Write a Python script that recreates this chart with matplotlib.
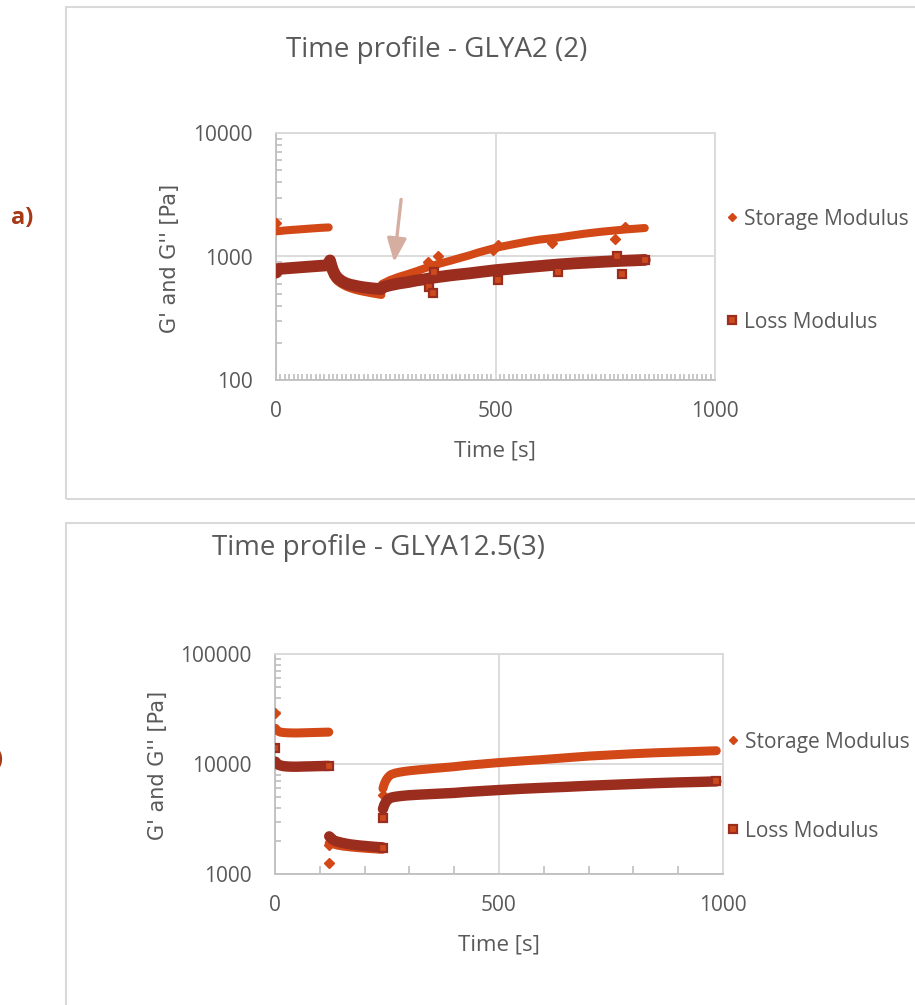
import matplotlib
matplotlib.use("Agg")
import matplotlib.pyplot as plt
from matplotlib.ticker import LogLocator, MultipleLocator, FixedLocator, NullFormatter, FuncFormatter
from matplotlib.patches import Rectangle
from matplotlib.lines import Line2D

# ---------------- GLYA2 (2) ----------------
a_sto_hold_t = [2, 10, 20, 30, 40, 50, 60, 70, 80, 90, 100, 110, 120]
a_sto_hold_g = [1600, 1610, 1625, 1635, 1645, 1655, 1665, 1675, 1685, 1695, 1705, 1712, 1720]
a_sto_break_t = [122, 126, 130, 135, 140, 150, 160, 170, 180, 190, 200, 210, 220, 230, 240]
a_sto_break_g = [870, 760, 700, 660, 630, 595, 570, 552, 538, 527, 518, 510, 502, 495, 488]
a_sto_rec_t = [242, 260, 280, 300, 320, 340, 360, 380, 400, 420, 440, 460, 480, 500, 520, 540,
               560, 580, 600, 620, 640, 660, 680, 700, 720, 740, 760, 780, 800, 820, 840]
a_sto_rec_g = [600, 645, 685, 720, 760, 805, 850, 890, 930, 975, 1020, 1075, 1125, 1175, 1215, 1255,
               1295, 1335, 1370, 1395, 1420, 1455, 1490, 1525, 1555, 1585, 1610, 1635, 1660, 1680, 1700]
a_sto_odd_t = [0, 346, 368, 495, 505, 628, 772, 795]
a_sto_odd_g = [1860, 900, 1000, 1130, 1230, 1280, 1380, 1720]

a_los_hold_t = [0, 2, 10, 20, 30, 40, 50, 60, 70, 80, 90, 100, 110, 120]
a_los_hold_g = [740, 790, 795, 800, 805, 810, 815, 820, 825, 830, 835, 840, 845, 850]
a_los_break_t = [120, 121, 123, 126, 130, 135, 140, 150, 160, 170, 180, 190, 200, 210, 220, 230, 240]
a_los_break_g = [850, 900, 930, 850, 770, 710, 670, 630, 605, 590, 580, 570, 563, 557, 552, 548, 545]
a_los_rec_t = [240, 260, 280, 300, 320, 340, 360, 380, 400, 420, 440, 460, 480, 500, 520, 540,
               560, 580, 600, 620, 640, 660, 680, 700, 720, 740, 760, 780, 800, 820, 840]
a_los_rec_g = [560, 585, 605, 620, 640, 655, 675, 690, 705, 718, 730, 745, 760, 775, 787, 800,
               812, 824, 836, 848, 860, 870, 880, 888, 896, 904, 912, 920, 926, 932, 938]
a_los_odd_t = [348, 357, 360, 506, 643, 777, 788, 841]
a_los_odd_g = [563, 509, 753, 646, 753, 1000, 722, 930]

# ---------------- GLYA12.5(3) ----------------
b_sto_hold_t = [1, 4, 8, 12, 20, 30, 40, 50, 60, 70, 80, 90, 100, 110, 120]
b_sto_hold_g = [21100, 20300, 19800, 19500, 19300, 19200, 19150, 19150, 19200, 19250, 19300,
                19350, 19400, 19450, 19500]
b_sto_break_t = [121, 124, 128, 134, 140, 150, 160, 170, 180, 190, 200, 210, 220, 230, 240]
b_sto_break_g = [1900, 1960, 1900, 1860, 1830, 1800, 1780, 1760, 1745, 1730, 1718, 1706, 1695, 1686, 1678]
b_sto_rec_t = [241, 244, 248, 252, 256, 260, 270, 280, 290, 300, 320, 340, 360, 380, 400, 425,
               450, 475, 500, 550, 600, 650, 700, 750, 800, 850, 900, 950, 985]
b_sto_rec_g = [6000, 6600, 7150, 7550, 7850, 8050, 8300, 8450, 8580, 8680, 8850, 9000, 9150, 9300,
               9450, 9700, 9900, 10100, 10300, 10650, 11000, 11400, 11800, 12100, 12400, 12650,
               12850, 13050, 13200]
b_sto_odd_t = [0, 120, 121, 240]
b_sto_odd_g = [29200, 1250, 1840, 5220]

b_los_hold_t = [1, 4, 8, 12, 20, 30, 40, 50, 60, 70, 80, 90, 100, 110, 120]
b_los_hold_g = [10500, 10100, 9850, 9700, 9550, 9480, 9450, 9450, 9480, 9500, 9520, 9550, 9570,
                9590, 9600]
b_los_break_t = [121, 124, 128, 134, 140, 150, 160, 170, 180, 190, 200, 210, 220, 230, 240]
b_los_break_g = [2200, 2150, 2060, 2000, 1965, 1920, 1885, 1855, 1835, 1815, 1800, 1785, 1770, 1758, 1748]
b_los_rec_t = [241, 244, 248, 252, 256, 260, 270, 280, 290, 300, 320, 340, 360, 380, 400, 425,
               450, 475, 500, 550, 600, 650, 700, 750, 800, 850, 900, 950, 985]
b_los_rec_g = [3900, 4250, 4550, 4750, 4880, 4960, 5050, 5110, 5160, 5200, 5260, 5310, 5360, 5410,
               5460, 5560, 5640, 5720, 5800, 5950, 6080, 6200, 6340, 6460, 6580, 6700, 6800, 6880, 6950]
b_los_odd_t = [0, 120, 240, 240, 985]
b_los_odd_g = [13900, 9600, 1740, 3250, 6950]

x_ticks = [0, 500, 1000]
series_names = ["Storage Modulus", "Loss Modulus"]
titles = ["Time profile - GLYA2 (2)", "Time profile - GLYA12.5(3)"]
panel_tags = ["a)", "b)"]
x_label = "Time [s]"
y_label = "G' and G'' [Pa]"

ORANGE = "#D34817"
DARKRED = "#9B2D1F"
SQFACE = "#CC4A1E"
TXT = "#595959"
GRID = "#D9D9D9"
AXIS = "#BFBFBF"

plt.rcParams["font.family"] = ["Open Sans", "DejaVu Sans"]

W, H = 915, 1005
fig = plt.figure(figsize=(W / 100, H / 100), dpi=100)


def px_box(left, top, right, bottom):
    return [left / W, 1 - bottom / H, (right - left) / W, (bottom - top) / H]


def fx(x):
    return x / W


def fy(y):
    return 1 - y / H


def draw_panel(ax, sto, los, sto_odd, los_odd, ylim, yticks, x_minor, minor_len,
               sto_lw, los_lw):
    for t, g in sto:
        ax.plot(t, g, color=ORANGE, lw=sto_lw, solid_capstyle="round",
                solid_joinstyle="round", zorder=3)
    ax.plot(sto_odd[0], sto_odd[1], linestyle="none", marker="D", ms=5,
            color=ORANGE, mec=ORANGE, zorder=3)
    for t, g in los:
        ax.plot(t, g, color=DARKRED, lw=los_lw, solid_capstyle="round",
                solid_joinstyle="round", zorder=4)
    ax.plot(los_odd[0], los_odd[1], linestyle="none", marker="s", ms=6,
            mfc=SQFACE, mec=DARKRED, mew=1.6, zorder=5)

    ax.set_yscale("log")
    ax.set_ylim(*ylim)
    ax.set_xlim(0, 1000)
    ax.set_xticks(x_ticks)
    ax.xaxis.set_minor_locator(MultipleLocator(x_minor))
    ax.yaxis.set_major_locator(FixedLocator(yticks))
    ax.yaxis.set_major_formatter(FuncFormatter(lambda v, p: f"{v:.0f}"))
    ax.yaxis.set_minor_locator(LogLocator(base=10, subs=range(2, 10)))
    ax.yaxis.set_minor_formatter(NullFormatter())
    ax.tick_params(which="both", direction="in", color=AXIS, labelcolor=TXT,
                   labelsize=15, width=1.2)
    ax.tick_params(axis="y", which="major", length=0, pad=17)
    ax.tick_params(axis="y", which="minor", length=4)
    ax.tick_params(axis="x", which="major", length=0, pad=15)
    ax.tick_params(axis="x", which="minor", length=minor_len)
    ax.grid(True, which="major", color=GRID, lw=1.3, zorder=0)
    ax.set_axisbelow(True)
    for side in ("top", "right"):
        ax.spines[side].set_color(GRID)
        ax.spines[side].set_linewidth(1.3)
    for side in ("left", "bottom"):
        ax.spines[side].set_color(AXIS)
        ax.spines[side].set_linewidth(1.3)


def legend_at(x_marker, y_sto, y_los):
    fig.add_artist(Line2D([fx(x_marker)], [fy(y_sto)], marker="D", ms=4,
                          color=ORANGE, linestyle="none", transform=fig.transFigure))
    fig.add_artist(Line2D([fx(x_marker)], [fy(y_los)], marker="s", ms=6,
                          mfc=SQFACE, mec=DARKRED, mew=1.6, linestyle="none",
                          transform=fig.transFigure))
    fig.text(fx(x_marker + 12), fy(y_sto), series_names[0], fontsize=15, color=TXT,
             ha="left", va="center_baseline")
    fig.text(fx(x_marker + 12), fy(y_los), series_names[1], fontsize=15, color=TXT,
             ha="left", va="center_baseline")


# chart frames
fig.add_artist(Rectangle((fx(66), fy(499)), fx(W + 20 - 66), (499 - 7) / H,
                         transform=fig.transFigure, fill=False, ec=GRID, lw=1.5))
fig.add_artist(Rectangle((fx(66), fy(H + 20)), fx(W + 20 - 66), (H + 20 - 523) / H,
                         transform=fig.transFigure, fill=False, ec=GRID, lw=1.5))

# ---- panel a ----
ax1 = fig.add_axes(px_box(276, 133, 715, 380))
draw_panel(ax1,
           [(a_sto_hold_t, a_sto_hold_g), (a_sto_break_t, a_sto_break_g), (a_sto_rec_t, a_sto_rec_g)],
           [(a_los_hold_t, a_los_hold_g), (a_los_break_t, a_los_break_g), (a_los_rec_t, a_los_rec_g)],
           (a_sto_odd_t, a_sto_odd_g), (a_los_odd_t, a_los_odd_g),
           (100, 10000), [100, 1000, 10000], 10, 4, 5.8, 8.5)
ax1.annotate("", xy=(269, 900), xytext=(285, 2900),
             arrowprops=dict(arrowstyle="-|>,head_length=1.1,head_width=0.45",
                             color="#D6AEA1", lw=2.4, mutation_scale=13,
                             shrinkA=0, shrinkB=0), zorder=6)
fig.text(fx(437), fy(50), titles[0], fontsize=20, color=TXT, ha="center", va="center")
fig.text(fx(170), fy(258), y_label, fontsize=15, color=TXT, rotation=90,
         ha="center", va="center", family="DejaVu Sans")
fig.text(fx(495), fy(451), x_label, fontsize=16, color=TXT, ha="center", va="center")
legend_at(732, 217, 320)
fig.text(fx(22), fy(218), panel_tags[0], fontsize=17, color="#A63A17",
         fontweight="bold", ha="center", va="center")

# ---- panel b ----
ax2 = fig.add_axes(px_box(275, 654, 723, 874))
draw_panel(ax2,
           [(b_sto_hold_t, b_sto_hold_g), (b_sto_break_t, b_sto_break_g), (b_sto_rec_t, b_sto_rec_g)],
           [(b_los_hold_t, b_los_hold_g), (b_los_break_t, b_los_break_g), (b_los_rec_t, b_los_rec_g)],
           (b_sto_odd_t, b_sto_odd_g), (b_los_odd_t, b_los_odd_g),
           (1000, 100000), [1000, 10000, 100000], 100, 6, 6.5, 7.5)
fig.text(fx(378), fy(548), titles[1], fontsize=20, color=TXT, ha="center", va="center")
fig.text(fx(158), fy(765), y_label, fontsize=15, color=TXT, rotation=90,
         ha="center", va="center", family="DejaVu Sans")
fig.text(fx(499), fy(945), x_label, fontsize=16, color=TXT, ha="center", va="center")
legend_at(733, 740, 829)
fig.text(fx(3), fy(760), panel_tags[1], fontsize=17, color="#A63A17",
         fontweight="bold", ha="right", va="center")

fig.savefig("out.png", dpi=100)
